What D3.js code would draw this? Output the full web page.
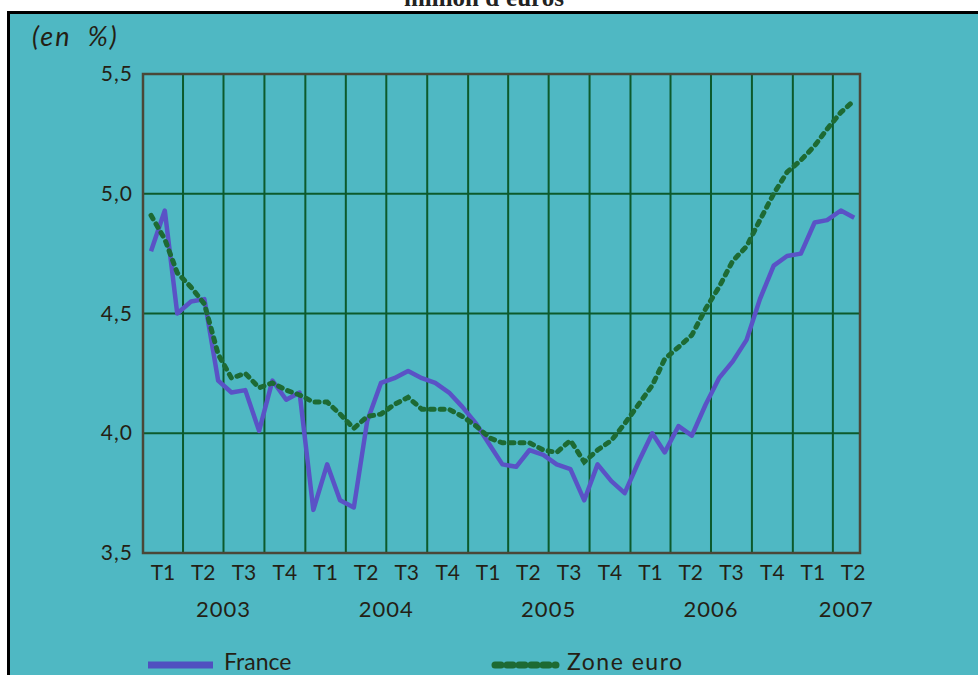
<!DOCTYPE html>
<html>
<head>
<meta charset="utf-8">
<script src="https://cdn.jsdelivr.net/npm/d3@7"></script>
<style>
  body { margin: 0; background: #fff; }
  svg { display: block; }
  text { font-family: Lato, "Open Sans", sans-serif; fill: #241f15; }
</style>
</head>
<body>
<svg id="chart" width="978" height="675"></svg>
<script>
// taux moyen des credits (en %) - France vs Zone euro, mensuel janv. 2003 - mai 2007
const france = [
  4.76, 4.93, 4.50, 4.55, 4.56, 4.22, 4.17, 4.18, 4.01, 4.22, 4.14, 4.17,
  3.68, 3.87, 3.72, 3.69, 4.05, 4.21, 4.23, 4.26, 4.23, 4.21, 4.17, 4.11,
  4.04, 3.95, 3.87, 3.86, 3.93, 3.91, 3.87, 3.85, 3.72, 3.87, 3.80, 3.75,
  3.88, 4.00, 3.92, 4.03, 3.99, 4.12, 4.23, 4.30, 4.39, 4.56, 4.70, 4.74,
  4.75, 4.88, 4.89, 4.93, 4.90
];
const zoneEuro = [
  4.91, 4.81, 4.67, 4.61, 4.54, 4.33, 4.23, 4.25, 4.19, 4.21, 4.18, 4.16,
  4.13, 4.13, 4.08, 4.02, 4.07, 4.08, 4.12, 4.15, 4.10, 4.10, 4.10, 4.07,
  4.03, 3.98, 3.96, 3.96, 3.96, 3.93, 3.92, 3.97, 3.88, 3.93, 3.97, 4.04,
  4.12, 4.20, 4.31, 4.36, 4.41, 4.52, 4.61, 4.72, 4.78, 4.89, 5.00, 5.09,
  5.14, 5.20, 5.27, 5.34, 5.39
];
const quarterLabels = ["T1","T2","T3","T4","T1","T2","T3","T4","T1","T2","T3","T4",
                       "T1","T2","T3","T4","T1","T2"];
const yearLabels = ["2003","2004","2005","2006","2007"];
const yTicks = [3.5, 4.0, 4.5, 5.0, 5.5];
const seriesNames = ["France", "Zone euro"];

const startDate = new Date(2003, 0, 1);
const endDate = new Date(2007, 5, 1);
const months = d3.timeMonths(startDate, endDate);   // 53 mois
const mid = m => d3.timeDay.offset(m, 18);

const teal = "#4fb8c3";
const gridColor = "#0c5a2c";
const frameColor = "#4a4738";
const franceColor = "#5a52c6";
const euroColor = "#1d6a33";

const svg = d3.select("#chart");

// fond + cadre noir
svg.append("rect")
  .attr("x", 8.5).attr("y", 12.5)
  .attr("width", 1000).attr("height", 700)
  .attr("fill", teal)
  .attr("stroke", "#000").attr("stroke-width", 3);

// titre coupé en haut
svg.append("text")
  .attr("x", 484).attr("y", 6)
  .attr("text-anchor", "middle")
  .style("font-family", "'Liberation Serif', serif")
  .style("font-weight", "bold")
  .style("font-size", "25px")
  .style("fill", "#222")
  .text("million d'euros");

svg.append("text")
  .attr("x", 32).attr("y", 46)
  .style("font-style", "italic")
  .style("font-size", "27px")
  .style("letter-spacing", "2px")
  .style("word-spacing", "8px")
  .text("(en %)");

const x0 = 143, x1 = 860, yTop = 74, yBot = 553;
const x = d3.scaleTime().domain([startDate, endDate]).range([x0, x1]);
const y = d3.scaleLinear().domain([3.5, 5.5]).range([yBot, yTop]);

const g = svg.append("g");

// grille verticale : debut de chaque trimestre
const quarterStarts = d3.timeMonths(startDate, endDate, 3).slice(1);
g.selectAll(".vgrid")
  .data(quarterStarts)
  .join("line")
  .attr("class", "vgrid")
  .attr("x1", d => x(d)).attr("x2", d => x(d))
  .attr("y1", yTop).attr("y2", yBot)
  .attr("stroke", gridColor).attr("stroke-width", 2);

g.selectAll(".hgrid")
  .data(yTicks.slice(1, -1))
  .join("line")
  .attr("class", "hgrid")
  .attr("x1", x0).attr("x2", x1)
  .attr("y1", d => y(d)).attr("y2", d => y(d))
  .attr("stroke", gridColor).attr("stroke-width", 2);

g.append("rect")
  .attr("x", x0).attr("y", yTop)
  .attr("width", x1 - x0).attr("height", yBot - yTop)
  .attr("fill", "none")
  .attr("stroke", frameColor).attr("stroke-width", 2.5);

// axe Y
const fmt = d => d3.format(".1f")(d).replace(".", ",");
const yAxis = d3.axisLeft(y).tickValues(yTicks).tickSize(0).tickPadding(10).tickFormat(fmt);
svg.append("g")
  .attr("transform", `translate(${x0},0)`)
  .call(yAxis)
  .call(a => a.select(".domain").remove())
  .selectAll("text")
  .style("font-family", "Lato, sans-serif")
  .style("font-size", "21px")
  .style("letter-spacing", "1px")
  .style("fill", "#241f15");

// axe X : trimestres puis annees
const allQuarters = d3.timeMonths(startDate, d3.timeMonth.offset(endDate, 1), 3);
svg.append("g").selectAll("text")
  .data(quarterLabels)
  .join("text")
  .attr("x", (d, i) => (x(allQuarters[i]) + x(d3.timeMonth.offset(allQuarters[i], 3))) / 2)
  .attr("y", 580)
  .attr("text-anchor", "middle")
  .style("font-size", "21px")
  .text(d => d);

svg.append("g").selectAll("text")
  .data(yearLabels)
  .join("text")
  .attr("x", d => {
    const midYear = new Date(+d, 6, 1);
    const lastLabel = d3.timeMonth.offset(endDate, -1);
    return x(midYear < lastLabel ? midYear : lastLabel);
  })
  .attr("y", 617)
  .attr("text-anchor", "middle")
  .style("font-size", "22px")
  .style("letter-spacing", "1px")
  .text(d => d);

// courbes
const line = d3.line()
  .x((d, i) => x(mid(months[i])))
  .y(d => y(d));

svg.append("path")
  .datum(france)
  .attr("d", line)
  .attr("fill", "none")
  .attr("stroke", franceColor)
  .attr("stroke-width", 4.5)
  .attr("stroke-linejoin", "round");

svg.append("path")
  .datum(zoneEuro)
  .attr("d", line)
  .attr("fill", "none")
  .attr("stroke", euroColor)
  .attr("stroke-width", 5)
  .attr("stroke-dasharray", "4,6")
  .attr("stroke-linecap", "round");

// legende
const legend = svg.append("g");
legend.append("line")
  .attr("x1", 148).attr("x2", 213).attr("y1", 665).attr("y2", 665)
  .attr("stroke", "#5050c0").attr("stroke-width", 7);
legend.append("text")
  .attr("x", 224).attr("y", 670)
  .style("font-size", "23px")
  .text(seriesNames[0]);
legend.append("line")
  .attr("x1", 495).attr("x2", 556).attr("y1", 665).attr("y2", 665)
  .attr("stroke", euroColor).attr("stroke-width", 7)
  .attr("stroke-dasharray", "6,6").attr("stroke-linecap", "round");
legend.append("text")
  .attr("x", 567).attr("y", 670)
  .style("font-size", "23px")
  .style("letter-spacing", "1.5px")
  .text(seriesNames[1]);
</script>
</body>
</html>
